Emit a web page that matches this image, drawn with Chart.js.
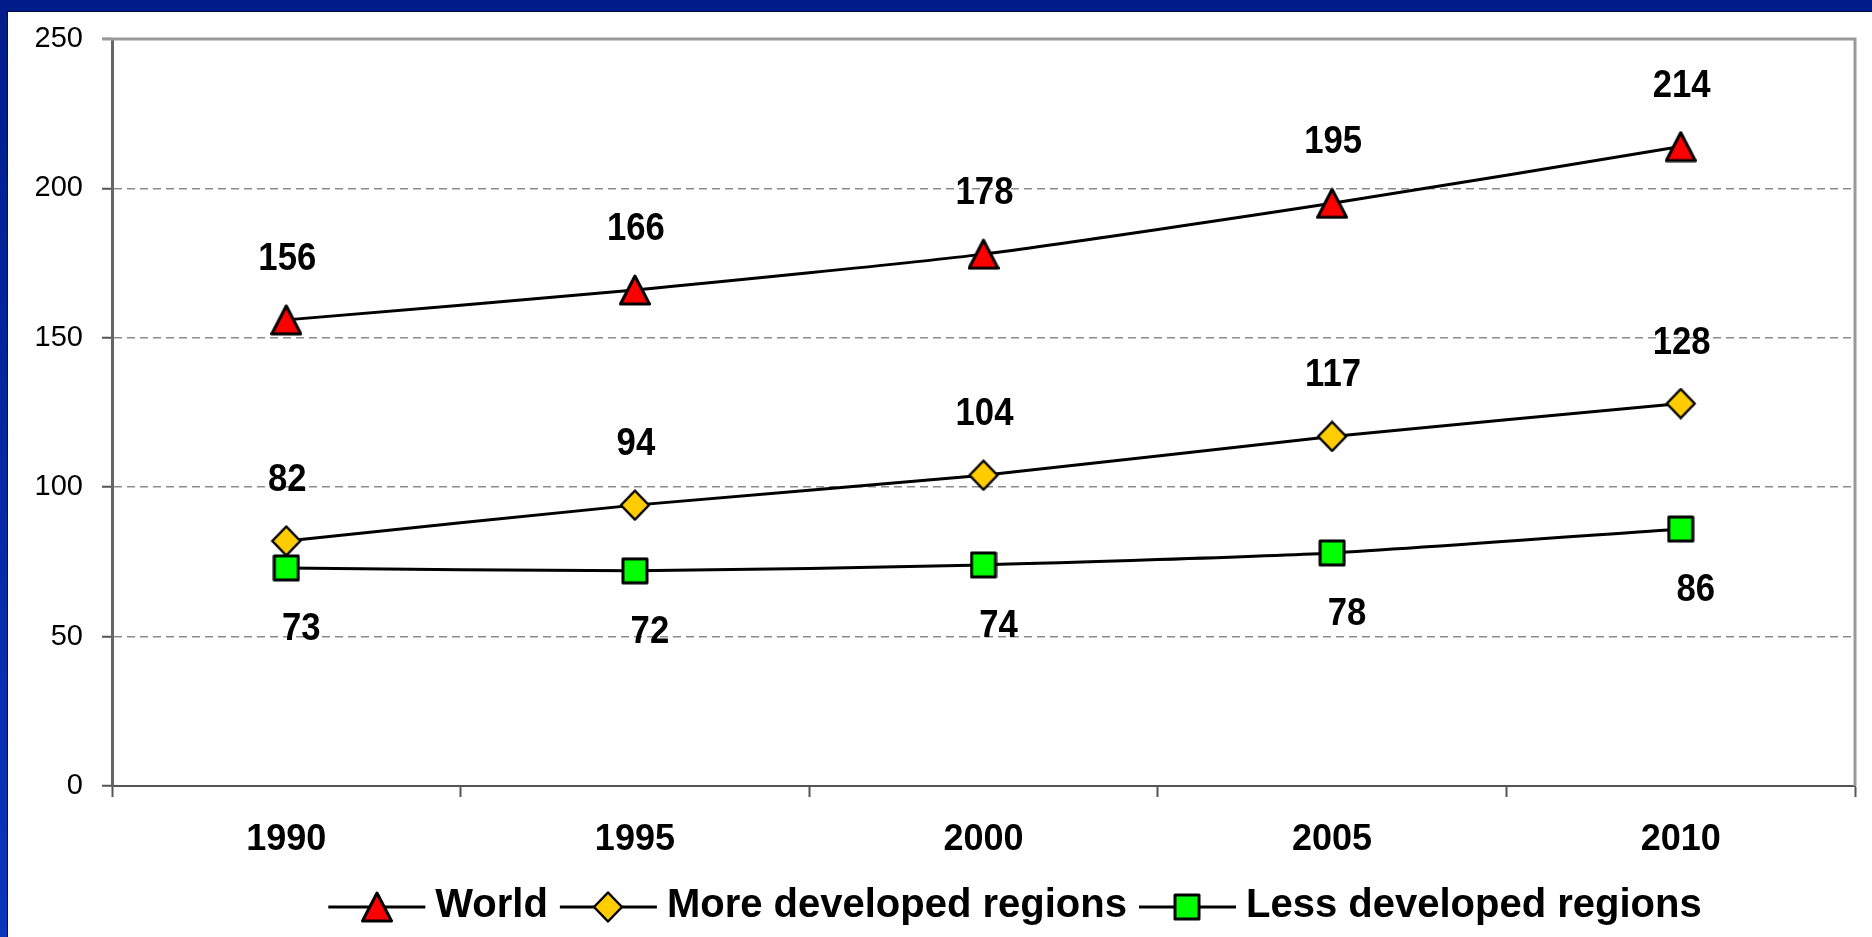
<!DOCTYPE html>
<html><head><meta charset="utf-8">
<script src="https://cdn.jsdelivr.net/npm/chart.js@4.4.1/dist/chart.umd.min.js"></script>
<style>
html,body{margin:0;padding:0;width:1872px;height:937px;overflow:hidden;}
body{background:linear-gradient(to bottom,#001c8a 0%,#0a36bc 100%);position:relative;}
#panel{position:absolute;left:7px;top:11px;right:0;bottom:0;background:#fff;border-top:1px solid #000c40;border-left:1px solid #000c40;}
#wrap{position:absolute;left:0;top:0;width:1872px;height:937px;}
</style></head><body>
<div id="panel"></div>
<div id="wrap"><canvas id="c" width="1872" height="937"></canvas></div>
<script>
const years = ['1990','1995','2000','2005','2010'];
const worldValues = [156, 166, 178, 195, 214];
const moreDevValues = [82, 94, 104, 117, 128];
const lessDevValues = [73, 72, 74, 78, 86];
const seriesNames = ['World', 'More developed regions', 'Less developed regions'];
const yMin = 0, yMax = 250, yStep = 50;

const FONT = '"Liberation Sans", Arial, sans-serif';

function makeTriangle(){
  const c=document.createElement('canvas'); c.width=32; c.height=32;
  const g=c.getContext('2d');
  g.beginPath(); g.moveTo(16,2); g.lineTo(30.5,30); g.lineTo(1.5,30); g.closePath();
  g.fillStyle='#FF0000'; g.fill(); g.lineWidth=3; g.lineJoin='round'; g.strokeStyle='#000'; g.stroke();
  return c;
}
function makeDiamond(){
  const c=document.createElement('canvas'); c.width=32; c.height=32;
  const g=c.getContext('2d');
  g.beginPath(); g.moveTo(16,1.5); g.lineTo(30,16); g.lineTo(16,30.5); g.lineTo(2,16); g.closePath();
  g.fillStyle='#FFCC00'; g.fill(); g.lineWidth=2.5; g.lineJoin='round'; g.strokeStyle='#000'; g.stroke();
  return c;
}
function makeSquare(){
  const c=document.createElement('canvas'); c.width=28; c.height=28;
  const g=c.getContext('2d');
  g.beginPath(); g.rect(2,2,24,24);
  g.fillStyle='#00FF00'; g.fill(); g.lineWidth=3; g.lineJoin='round'; g.strokeStyle='#000'; g.stroke();
  return c;
}
const markers = [makeTriangle(), makeDiamond(), makeSquare()];
const labelPlacement = ['above','above','below'];
const labelDx = [1, 1, 15];

const frameBorder = {
  id:'frameBorder',
  beforeDatasetsDraw(chart){
    const {ctx, chartArea:a} = chart;
    ctx.save();
    ctx.strokeStyle='#9a9a9a'; ctx.lineWidth=3;
    ctx.beginPath(); ctx.moveTo(a.left-10, a.top); ctx.lineTo(a.right, a.top); ctx.lineTo(a.right, a.bottom); ctx.stroke();
    ctx.restore();
  }
};

const valueLabels = {
  id:'valueLabels',
  afterDatasetsDraw(chart){
    const ctx = chart.ctx;
    chart.data.datasets.forEach((ds,i)=>{
      const meta = chart.getDatasetMeta(i);
      meta.data.forEach((pt,j)=>{
        const y = labelPlacement[i]==='above' ? pt.y-50 : pt.y+72;
        ctx.save();
        ctx.font = 'bold 39px ' + FONT;
        ctx.textAlign='center'; ctx.textBaseline='alphabetic'; ctx.fillStyle='#000';
        ctx.translate(pt.x + labelDx[i], y);
        ctx.scale(0.89, 1);
        ctx.fillText(String(ds.data[j]), 0, 0);
        ctx.restore();
      });
    });
  }
};

const customLegend = {
  id:'customLegend',
  afterDraw(chart){
    const ctx = chart.ctx;
    ctx.save();
    ctx.font = 'bold 40px ' + FONT;
    const lineW = 97, gapText = 10, gapItem = 12;
    const items = chart.data.datasets.map((ds,i)=>({text:ds.label, img:markers[i], w: ctx.measureText(ds.label).width}));
    let total = 0;
    items.forEach((it,i)=>{ total += lineW + gapText + it.w + (i<items.length-1?gapItem:0); });
    let x = 1015 - total/2;
    const cy = 907;
    items.forEach(it=>{
      ctx.strokeStyle='#000'; ctx.lineWidth=3;
      ctx.beginPath(); ctx.moveTo(x, cy); ctx.lineTo(x+lineW, cy); ctx.stroke();
      ctx.drawImage(it.img, Math.round(x+lineW/2 - it.img.width/2), Math.round(cy - it.img.height/2));
      ctx.fillStyle='#000'; ctx.textAlign='left'; ctx.textBaseline='alphabetic';
      ctx.fillText(it.text, x+lineW+gapText, cy+10);
      x += lineW + gapText + it.w + gapItem;
    });
    ctx.restore();
  }
};

const seriesValues = [worldValues, moreDevValues, lessDevValues];

new Chart(document.getElementById('c'), {
  type:'line',
  data:{
    labels: years,
    datasets: seriesValues.map((vals,i)=>({
      label: seriesNames[i],
      data: vals,
      borderColor:'#000', borderWidth:3,
      pointStyle: markers[i], pointRadius:14,
      tension:0.2, fill:false
    }))
  },
  options:{
    responsive:false, animation:false, events:[],
    layout:{padding:{left:0, top:39, right:6, bottom:61}},
    plugins:{legend:{display:false}, tooltip:{enabled:false}},
    scales:{
      x:{
        offset:true,
        grid:{offset:true, drawOnChartArea:false, drawTicks:true, tickLength:11, tickColor:'#555', tickWidth:2},
        border:{color:'#555', width:2},
        ticks:{font:{family:FONT, size:36, weight:'bold'}, color:'#000', padding:21, maxRotation:0},
        afterFit(s){ s.height = 90; }
      },
      y:{
        min:yMin, max:yMax,
        grid:{color:'#8c8c8c', lineWidth:1.5, tickColor:'#555', tickWidth:2, tickLength:10, tickBorderDash:[]},
        border:{color:'#666', width:3, dash:[8,5]},
        ticks:{stepSize:yStep, font:{family:FONT, size:29}, color:'#000', padding:19},
        afterFit(s){ s.width = 112; }
      }
    }
  },
  plugins:[frameBorder, valueLabels, customLegend]
});
</script>
</body></html>
